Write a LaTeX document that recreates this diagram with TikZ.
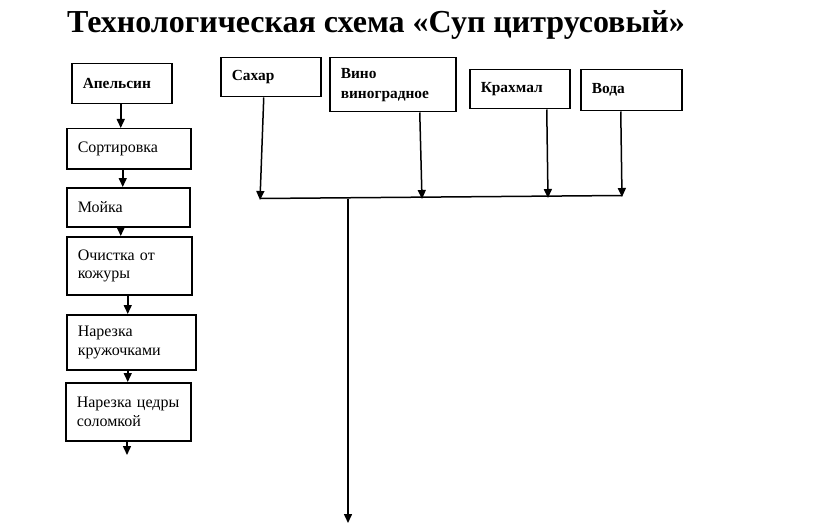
\documentclass[tikz,border=0pt]{standalone}
\usepackage{fontspec}
\setmainfont{Liberation Serif}
\usetikzlibrary{arrows.meta}
\begin{document}
\begin{tikzpicture}[x=1pt,y=-1pt,
  box/.style n args={3}{draw, line width=1.5pt, anchor=north west, inner xsep=11pt, inner ysep=2pt,
     minimum width=#1, minimum height=#2, text width=#3, align=left, font=\fontsize{16}{18.5}\selectfont},
  bbox/.style n args={3}{box={#1}{#2}{#3}, font=\fontsize{15.4}{20}\selectfont\bfseries},
  arr/.style={line width=1.5pt, -{Triangle[length=9pt,width=8pt]}},
  ln/.style={line width=1.5pt}]
\useasboundingbox (0,0) rectangle (816,524);
\node[anchor=base west, font=\fontsize{32}{36}\selectfont\bfseries, inner sep=0pt] (title) at (67,33) {Технологическая схема «Суп цитрусовый»};
% left column
\node[bbox={100pt}{40pt}{78pt}] (ape) at (71,63) {Апельсин};
\node[box={124pt}{40pt}{102pt}] (sort) at (66,128) {Сортировка};
\node[box={123pt}{39pt}{101pt}] (moy) at (66,187) {Мойка};
\node[box={125pt}{58pt}{103pt}] (och) at (66,236) {Очистка от\\кожуры};
\node[box={129pt}{55pt}{107pt}] (nar) at (66,314) {Нарезка\\кружочками};
\node[box={125pt}{58pt}{103pt}] (ced) at (65,382) {Нарезка цедры\\соломкой};
\coordinate (cedout) at (127,455);
\draw[arr] ([xshift=-1pt]ape.south) -- ([xshift=-1pt]ape.south |- sort.north);
\draw[arr] ([xshift=-6pt]sort.south) -- ([xshift=-6pt]sort.south |- moy.north);
\draw[arr] ([xshift=-7.5pt]moy.south) -- ([xshift=-7.5pt]moy.south |- och.north);
\draw[arr] ([xshift=-1.5pt]och.south) -- ([xshift=-1.5pt]och.south |- nar.north);
\draw[arr] ([xshift=-3.5pt]nar.south) -- ([xshift=-3.5pt]nar.south |- ced.north);
\draw[arr] (ced.south -| cedout) -- (cedout);
% top row
\node[bbox={100pt}{39pt}{78pt}] (sah) at (220,57) {Сахар};
\node[bbox={126pt}{54pt}{104pt}] (vin) at (329,57) {Вино\\виноградное};
\node[bbox={100pt}{39pt}{78pt}] (kra) at (469,69) {Крахмал};
\node[bbox={101pt}{41pt}{79pt}] (vod) at (580,69) {Вода};
\coordinate (j1) at (260,200);
\coordinate (j2) at (422,199);
\coordinate (j3) at (548,198);
\coordinate (j4) at (622,197);
\coordinate (m1) at (348,198.5);
\coordinate (m2) at (348,523);
\draw[arr] ([xshift=-7pt]sah.south) -- (j1);
\draw[arr] ([xshift=27pt]vin.south) -- (j2);
\draw[arr] ([xshift=27pt]kra.south) -- (j3);
\draw[arr] ([xshift=-10.5pt]vod.south) -- (j4);
\draw[ln] (260,198.5) -- (622,195.5);
\draw[arr] (m1) -- (m2);
\end{tikzpicture}
\end{document}
